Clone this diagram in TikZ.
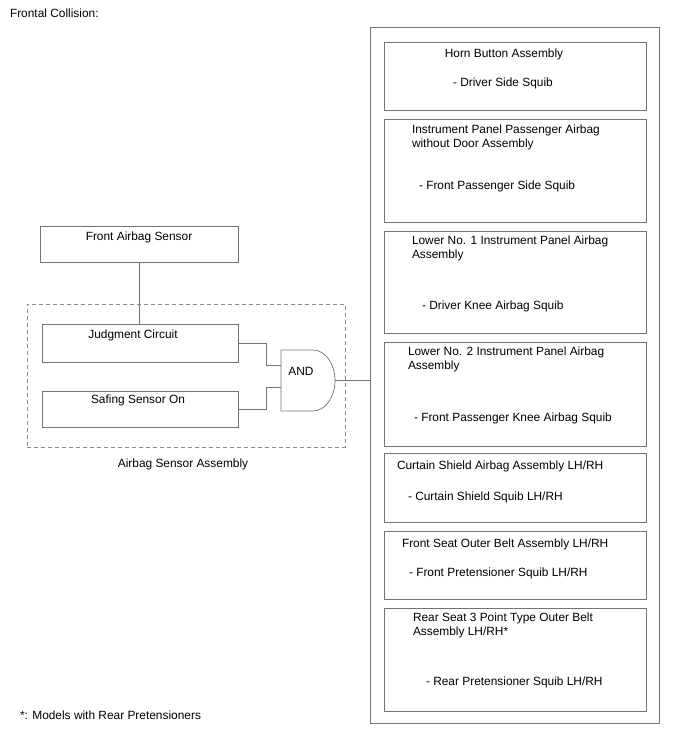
\documentclass[tikz,border=0pt]{standalone}
\usepackage{fontspec}
\setmainfont{Liberation Sans}
\begin{document}
\begin{tikzpicture}[x=1pt,y=-1pt,
  every node/.style={font=\fontsize{11.9}{14}\selectfont, inner sep=0pt, outer sep=0pt},
  box/.style={draw=black!55, line width=0.7pt, rectangle},
  wire/.style={draw=black!55, line width=0.7pt},
  lbl/.style={anchor=base west, align=left},
  clbl/.style={anchor=base}]
\useasboundingbox (0,0) rectangle (688,755);
\node[lbl] (title) at (10,17) {Frontal Collision:};
\node[lbl] (note) at (20,719) {*: Models with Rear Pretensioners};

% left side
\node[box, minimum width=198pt, minimum height=36pt] (fas) at (139,244) {};
\node[clbl] (fast) at (139,240) {Front Airbag Sensor};
\node[draw=black!45, line width=0.7pt, dash pattern=on 4pt off 3pt, minimum width=318pt, minimum height=143pt] (asa) at (186,375.5) {};
\node[clbl] (asat) at (183,467) {Airbag Sensor Assembly};
\node[box, minimum width=196pt, minimum height=38pt] (jc) at (140,343) {};
\node[clbl] (jct) at (133,338) {Judgment Circuit};
\node[box, minimum width=196pt, minimum height=36pt] (ss) at (140,409) {};
\node[clbl] (sst) at (138,403) {Safing Sensor On};

% AND gate
\draw[wire] (281,350) -- (313,350) arc[start angle=90, end angle=-90, x radius=22pt, y radius=30.5pt] -- (281,411) -- cycle;
\coordinate (gin1) at (281,365);
\coordinate (gin2) at (281,387);
\coordinate (gout) at (335,380.5);
\node[clbl] (andt) at (301,375) {AND};

\draw[wire] (fas.south) -- (fas.south |- jc.north);
\draw[wire] (jc.east) -- ++(28,0) |- (gin1);
\draw[wire] (ss.east) -- ++(28,0) |- (gin2);

% right side
\node[box, minimum width=289pt, minimum height=696pt] (outer) at (514.5,375) {};
\draw[wire] (gout) -- (gout -| outer.west);

\node[box, minimum width=262pt, minimum height=68pt] (b1) at (515,76) {};
\node[clbl] (b1a) at (504,57) {Horn Button Assembly};
\node[lbl] (b1b) at (453,86) {- Driver Side Squib};

\node[box, minimum width=262pt, minimum height=103pt] (b2) at (515,170.5) {};
\node[lbl] (b2a) at (412,147) {Instrument Panel Passenger Airbag\\without Door Assembly};
\node[lbl] (b2b) at (419,189) {- Front Passenger Side Squib};

\node[box, minimum width=262pt, minimum height=102pt] (b3) at (515,282) {};
\node[lbl] (b3a) at (412,258) {Lower No. 1 Instrument Panel Airbag\\Assembly};
\node[lbl] (b3b) at (422,309) {- Driver Knee Airbag Squib};

\node[box, minimum width=262pt, minimum height=104pt] (b4) at (515,394) {};
\node[lbl] (b4a) at (408,369) {Lower No. 2 Instrument Panel Airbag\\Assembly};
\node[lbl] (b4b) at (414,421) {- Front Passenger Knee Airbag Squib};

\node[box, minimum width=262pt, minimum height=69pt] (b5) at (515,487.5) {};
\node[lbl] (b5a) at (397,469) {Curtain Shield Airbag Assembly LH/RH};
\node[lbl] (b5b) at (408,500) {- Curtain Shield Squib LH/RH};

\node[box, minimum width=262pt, minimum height=68pt] (b6) at (515,565) {};
\node[lbl] (b6a) at (402,547) {Front Seat Outer Belt Assembly LH/RH};
\node[lbl] (b6b) at (409,576) {- Front Pretensioner Squib LH/RH};

\node[box, minimum width=262pt, minimum height=103pt] (b7) at (515,659.5) {};
\node[lbl] (b7a) at (413,635) {Rear Seat 3 Point Type Outer Belt\\Assembly LH/RH*};
\node[lbl] (b7b) at (426,685) {- Rear Pretensioner Squib LH/RH};
\end{tikzpicture}
\end{document}
